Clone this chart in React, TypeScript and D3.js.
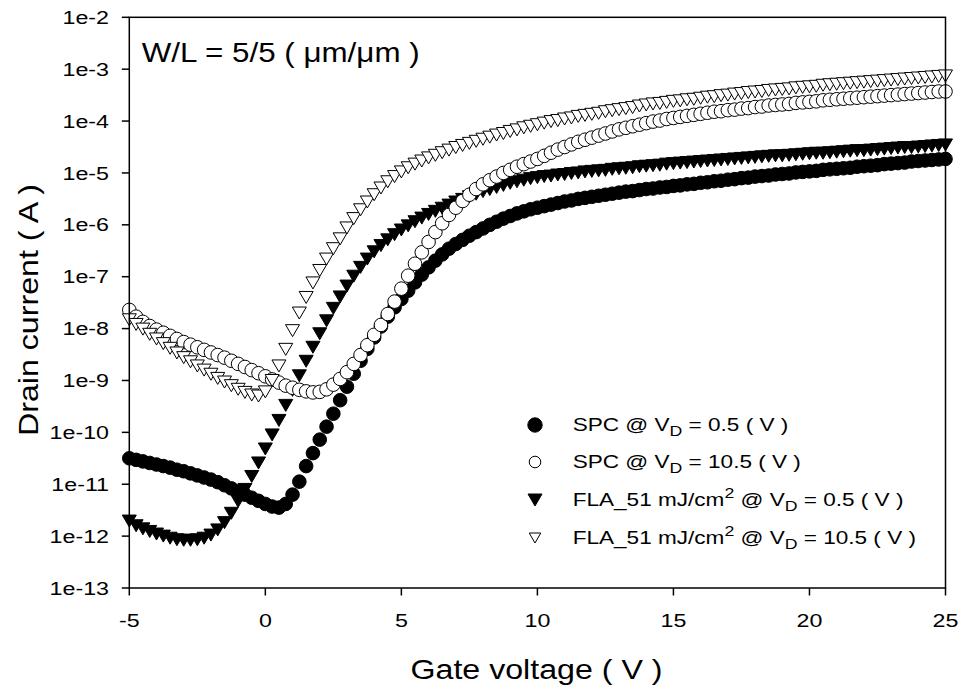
import React from "react";
import * as d3 from "d3";

// Gate-voltage sweep (V): -5 V to 25 V in 0.25 V steps (measurement grid)
const VG_START = -5;
const VG_END = 25;
const VG_STEP = 0.25;

// log10 of drain current (A)
const SPC_VD05 = [
  -10.50, -10.53, -10.56, -10.59, -10.62, -10.65, -10.68, -10.72, -10.75, -10.79,
  -10.83, -10.87, -10.91, -10.96, -11.02, -11.08, -11.14, -11.20, -11.26, -11.32,
  -11.38, -11.43, -11.45, -11.38, -11.20, -10.95, -10.65, -10.40, -10.14, -9.89,
  -9.64, -9.38, -9.12, -8.87, -8.62, -8.39, -8.17, -7.96, -7.77, -7.59,
  -7.43, -7.27, -7.11, -6.96, -6.82, -6.69, -6.57, -6.46, -6.37, -6.29,
  -6.21, -6.14, -6.07, -6.00, -5.94, -5.88, -5.83, -5.78, -5.74, -5.70,
  -5.67, -5.64, -5.61, -5.58, -5.55, -5.53, -5.50, -5.48, -5.46, -5.44,
  -5.42, -5.40, -5.38, -5.36, -5.35, -5.33, -5.31, -5.30, -5.28, -5.27,
  -5.25, -5.24, -5.22, -5.21, -5.19, -5.18, -5.16, -5.15, -5.13, -5.12,
  -5.10, -5.09, -5.07, -5.06, -5.05, -5.03, -5.02, -5.01, -4.99, -4.98,
  -4.97, -4.96, -4.94, -4.93, -4.92, -4.91, -4.90, -4.88, -4.87, -4.86,
  -4.85, -4.83, -4.82, -4.81, -4.80, -4.78, -4.77, -4.76, -4.75, -4.74,
  -4.73,
];

const SPC_VD105 = [
  -7.64, -7.77, -7.87, -7.95, -8.02, -8.08, -8.14, -8.20, -8.26, -8.31,
  -8.36, -8.41, -8.46, -8.51, -8.56, -8.62, -8.68, -8.74, -8.80, -8.86,
  -8.92, -8.98, -9.04, -9.10, -9.14, -9.18, -9.21, -9.23, -9.22, -9.17,
  -9.08, -8.97, -8.84, -8.68, -8.51, -8.32, -8.12, -7.93, -7.72, -7.48,
  -7.23, -6.98, -6.75, -6.53, -6.33, -6.14, -5.97, -5.81, -5.67, -5.54,
  -5.42, -5.31, -5.22, -5.14, -5.07, -5.00, -4.94, -4.88, -4.83, -4.78,
  -4.73, -4.67, -4.61, -4.55, -4.50, -4.45, -4.40, -4.36, -4.32, -4.28,
  -4.24, -4.20, -4.16, -4.13, -4.10, -4.07, -4.04, -4.01, -3.99, -3.96,
  -3.94, -3.92, -3.90, -3.88, -3.86, -3.84, -3.82, -3.81, -3.79, -3.78,
  -3.76, -3.75, -3.73, -3.72, -3.70, -3.69, -3.68, -3.67, -3.65, -3.64,
  -3.63, -3.62, -3.60, -3.59, -3.58, -3.57, -3.56, -3.55, -3.54, -3.53,
  -3.52, -3.51, -3.50, -3.49, -3.48, -3.47, -3.46, -3.45, -3.44, -3.43,
  -3.43,
];

const FLA_VD05 = [
  -11.71, -11.80, -11.86, -11.91, -11.96, -12.00, -12.04, -12.07, -12.08, -12.08,
  -12.07, -12.04, -11.98, -11.88, -11.74, -11.56, -11.33, -11.10, -10.85, -10.59,
  -10.32, -10.05, -9.77, -9.48, -9.19, -8.91, -8.63, -8.36, -8.10, -7.85,
  -7.61, -7.39, -7.18, -6.99, -6.82, -6.66, -6.52, -6.40, -6.29, -6.19,
  -6.10, -6.02, -5.94, -5.87, -5.80, -5.74, -5.68, -5.62, -5.56, -5.51,
  -5.46, -5.41, -5.36, -5.32, -5.28, -5.24, -5.20, -5.17, -5.14, -5.11,
  -5.09, -5.07, -5.06, -5.04, -5.03, -5.01, -5.00, -4.98, -4.97, -4.96,
  -4.95, -4.93, -4.92, -4.91, -4.90, -4.88, -4.87, -4.86, -4.85, -4.83,
  -4.82, -4.81, -4.80, -4.79, -4.78, -4.77, -4.76, -4.75, -4.74, -4.73,
  -4.72, -4.71, -4.70, -4.69, -4.68, -4.67, -4.67, -4.66, -4.65, -4.64,
  -4.63, -4.62, -4.62, -4.61, -4.60, -4.59, -4.58, -4.57, -4.57, -4.56,
  -4.55, -4.54, -4.53, -4.52, -4.51, -4.51, -4.50, -4.49, -4.48, -4.47,
  -4.46,
];

const FLA_VD105 = [
  -7.83, -7.92, -8.01, -8.11, -8.20, -8.29, -8.38, -8.47, -8.56, -8.64,
  -8.72, -8.80, -8.88, -8.96, -9.03, -9.10, -9.17, -9.23, -9.28, -9.30,
  -9.22, -9.00, -8.72, -8.40, -8.04, -7.70, -7.40, -7.12, -6.88, -6.66,
  -6.46, -6.27, -6.06, -5.88, -5.71, -5.56, -5.42, -5.29, -5.17, -5.07,
  -4.98, -4.90, -4.83, -4.77, -4.71, -4.66, -4.61, -4.56, -4.51, -4.47,
  -4.43, -4.39, -4.35, -4.31, -4.27, -4.24, -4.20, -4.17, -4.13, -4.10,
  -4.07, -4.04, -4.01, -3.99, -3.96, -3.94, -3.91, -3.89, -3.87, -3.85,
  -3.82, -3.80, -3.78, -3.76, -3.74, -3.71, -3.69, -3.67, -3.66, -3.64,
  -3.62, -3.61, -3.59, -3.58, -3.56, -3.54, -3.53, -3.51, -3.50, -3.48,
  -3.47, -3.45, -3.44, -3.43, -3.41, -3.40, -3.39, -3.38, -3.36, -3.35,
  -3.34, -3.33, -3.31, -3.30, -3.29, -3.28, -3.27, -3.26, -3.25, -3.24,
  -3.23, -3.22, -3.21, -3.20, -3.19, -3.18, -3.17, -3.16, -3.15, -3.14,
  -3.13,
];

const X_TICKS = [-5, 0, 5, 10, 15, 20, 25];
const X_TICK_LABELS = ["-5", "0", "5", "10", "15", "20", "25"];
const Y_TICK_EXPONENTS = [-2, -3, -4, -5, -6, -7, -8, -9, -10, -11, -12, -13];
const Y_TICK_LABELS = ["1e-2", "1e-3", "1e-4", "1e-5", "1e-6", "1e-7", "1e-8", "1e-9", "1e-10", "1e-11", "1e-12", "1e-13"];

const X_TITLE = "Gate voltage ( V )";
const Y_TITLE = "Drain current ( A )";
const ANNOTATION = "W/L = 5/5 ( \u03bcm/\u03bcm )";

type Marker = "filledCircle" | "openCircle" | "filledTri" | "openTri";

const SERIES: { key: string; marker: Marker; values: number[] }[] = [
  { key: "spc05", marker: "filledCircle", values: SPC_VD05 },
  { key: "fla05", marker: "filledTri", values: FLA_VD05 },
  { key: "spc105", marker: "openCircle", values: SPC_VD105 },
  { key: "fla105", marker: "openTri", values: FLA_VD105 },
];

const FONT = "'Liberation Sans', Arial, Helvetica, sans-serif";

const W = 963;
const H = 692;
const PLOT = { left: 129.3, right: 945.5, top: 17.3, bottom: 588 };

function triPath(w: number, h: number) {
  return `M${-w / 2},${-h / 2}L${w / 2},${-h / 2}L0,${h / 2}Z`;
}

function MarkerShape({ kind, x, y, r = 6.8, tw = 14, th = 12 }: { kind: Marker; x: number; y: number; r?: number; tw?: number; th?: number }) {
  if (kind === "filledCircle")
    return <circle cx={x} cy={y} r={r} fill="#000" stroke="#000" strokeWidth={1} />;
  if (kind === "openCircle")
    return <circle cx={x} cy={y} r={r} fill="#fff" stroke="#000" strokeWidth={1} />;
  if (kind === "filledTri")
    return <path d={triPath(tw, th)} transform={`translate(${x},${y})`} fill="#000" stroke="#000" strokeWidth={1} strokeLinejoin="miter" />;
  return <path d={triPath(tw, th)} transform={`translate(${x},${y})`} fill="#fff" stroke="#000" strokeWidth={1} strokeLinejoin="miter" />;
}

export default function App() {
  const vg = d3.range(VG_START, VG_END + VG_STEP / 2, VG_STEP);
  const x = d3.scaleLinear().domain([-5, 25]).range([PLOT.left, PLOT.right]);
  const y = d3.scaleLog().domain([1e-13, 1e-2]).range([PLOT.bottom, PLOT.top]);

  const sub = 14.5;
  const legendRows: { marker: Marker; r: number; tw: number; th: number; content: React.ReactNode }[] = [
    {
      marker: "filledCircle", r: 7.2, tw: 14, th: 12,
      content: (<>SPC @ V<tspan dy={5} fontSize={sub}>D</tspan><tspan dy={-5}> = 0.5 ( V )</tspan></>),
    },
    {
      marker: "openCircle", r: 5.8, tw: 14, th: 12,
      content: (<>SPC @ V<tspan dy={5} fontSize={sub}>D</tspan><tspan dy={-5}> = 10.5 ( V )</tspan></>),
    },
    {
      marker: "filledTri", r: 6, tw: 14, th: 12,
      content: (<>FLA_51 mJ/cm<tspan dy={-8} fontSize={sub}>2</tspan><tspan dy={8}> @ V</tspan><tspan dy={5} fontSize={sub}>D</tspan><tspan dy={-5}> = 0.5 ( V )</tspan></>),
    },
    {
      marker: "openTri", r: 6, tw: 11.5, th: 10,
      content: (<>FLA_51 mJ/cm<tspan dy={-8} fontSize={sub}>2</tspan><tspan dy={8}> @ V</tspan><tspan dy={5} fontSize={sub}>D</tspan><tspan dy={-5}> = 10.5 ( V )</tspan></>),
    },
  ];
  const legendY = [425, 462, 500, 538];

  return (
    <>
      <style>{"body{margin:0;background:#fff}"}</style>
      <svg width={W} height={H} style={{ display: "block", background: "#fff" }} fontFamily={FONT}>
        {/* data markers */}
        {SERIES.map((s) => (
          <g key={s.key}>
            {s.values.map((lv, i) => (
              <MarkerShape key={i} kind={s.marker} x={x(vg[i])} y={y(Math.pow(10, lv))} />
            ))}
          </g>
        ))}

        {/* frame */}
        <rect x={PLOT.left} y={PLOT.top} width={PLOT.right - PLOT.left} height={PLOT.bottom - PLOT.top} fill="none" stroke="#000" strokeWidth={1.5} />

        {/* y ticks */}
        {Y_TICK_EXPONENTS.map((e, i) => {
          const yy = y(Math.pow(10, e));
          return (
            <g key={e}>
              <line x1={PLOT.left - 7.5} x2={PLOT.left} y1={yy} y2={yy} stroke="#000" strokeWidth={1.5} />
              <text transform={`translate(109,${yy + 6.6}) scale(1.27,1)`} textAnchor="end" fontSize={18.3} fill="#000">
                {Y_TICK_LABELS[i]}
              </text>
            </g>
          );
        })}

        {/* x ticks */}
        {X_TICKS.map((t, i) => {
          const xx = x(t);
          return (
            <g key={t}>
              <line x1={xx} x2={xx} y1={PLOT.bottom} y2={PLOT.bottom + 7.5} stroke="#000" strokeWidth={1.5} />
              <text transform={`translate(${xx},626.7) scale(1.27,1)`} textAnchor="middle" fontSize={18.3} fill="#000">
                {X_TICK_LABELS[i]}
              </text>
            </g>
          );
        })}

        {/* axis titles */}
        <text transform="translate(536.5,679) scale(1.17,1)" textAnchor="middle" fontSize={27.5} fill="#000">
          {X_TITLE}
        </text>
        <text transform="translate(38,310) rotate(-90) scale(1.17,1)" textAnchor="middle" fontSize={27.5} fill="#000">
          {Y_TITLE}
        </text>

        {/* annotation */}
        <text transform="translate(141.7,62.3) scale(1.12,1)" fontSize={28} fill="#000">
          {ANNOTATION}
        </text>

        {/* legend */}
        {legendRows.map((row, i) => (
          <g key={i}>
            <MarkerShape kind={row.marker} x={535} y={legendY[i]} r={row.r} tw={row.tw} th={row.th} />
            <text transform={`translate(572.7,${legendY[i] + 6}) scale(1.22,1)`} fontSize={18.5} fill="#000">
              {row.content}
            </text>
          </g>
        ))}
      </svg>
    </>
  );
}
